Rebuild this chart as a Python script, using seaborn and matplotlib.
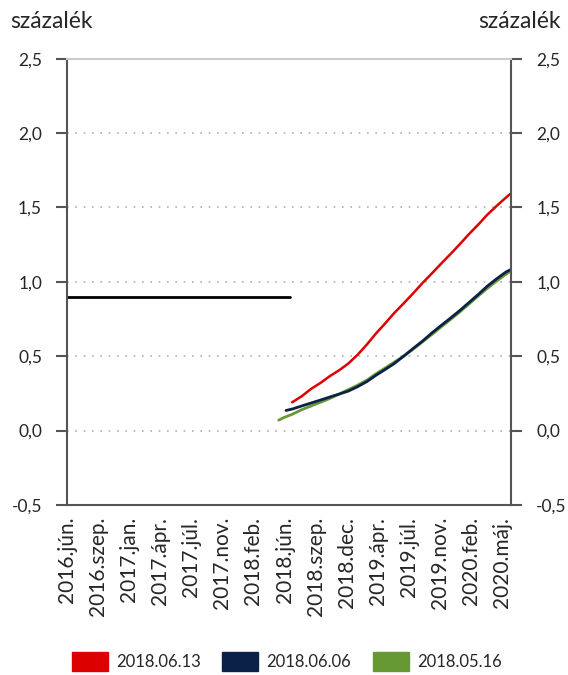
import pandas as pd
import seaborn as sns
import numpy as np
import matplotlib.pyplot as plt
import matplotlib.dates as mdates
from matplotlib.patches import Patch

# data
alapkamat_dates = ['2016-06-05', '2018-06-06']
alapkamat = [0.9, 0.9]

red_dates = ['2018-06-14', '2018-07-15', '2018-08-15', '2018-09-15', '2018-10-15', '2018-11-15',
             '2018-12-15', '2019-01-15', '2019-02-15', '2019-03-15', '2019-04-15', '2019-05-15',
             '2019-06-15', '2019-07-15', '2019-08-15', '2019-09-15', '2019-10-15', '2019-11-15',
             '2019-12-15', '2020-01-15', '2020-02-15', '2020-03-15', '2020-04-15', '2020-05-15',
             '2020-05-29']
red_vals = [0.19, 0.23, 0.28, 0.32, 0.365, 0.405, 0.45, 0.51, 0.58, 0.65, 0.72, 0.79,
            0.855, 0.92, 0.99, 1.055, 1.12, 1.185, 1.25, 1.32, 1.385, 1.45, 1.51, 1.565, 1.59]

navy_dates = ['2018-05-25', '2018-06-15', '2018-07-15', '2018-08-15', '2018-09-15', '2018-10-15',
              '2018-11-15', '2018-12-15', '2019-01-15', '2019-02-15', '2019-03-15', '2019-04-15',
              '2019-05-15', '2019-06-15', '2019-07-15', '2019-08-15', '2019-09-15', '2019-10-15',
              '2019-11-15', '2019-12-15', '2020-01-15', '2020-02-15', '2020-03-15', '2020-04-15',
              '2020-05-15', '2020-05-29']
navy_vals = [0.135, 0.145, 0.165, 0.185, 0.205, 0.225, 0.245, 0.265, 0.295, 0.33, 0.37, 0.41,
             0.45, 0.50, 0.55, 0.60, 0.655, 0.705, 0.755, 0.805, 0.86, 0.915, 0.97, 1.02,
             1.065, 1.08]

green_dates = ['2018-05-01', '2018-05-15', '2018-06-15', '2018-07-15', '2018-08-15', '2018-09-15',
               '2018-10-15', '2018-11-15', '2018-12-15', '2019-01-15', '2019-02-15', '2019-03-15',
               '2019-04-15', '2019-05-15', '2019-06-15', '2019-07-15', '2019-08-15', '2019-09-15',
               '2019-10-15', '2019-11-15', '2019-12-15', '2020-01-15', '2020-02-15', '2020-03-15',
               '2020-04-15', '2020-05-15', '2020-05-29']
green_vals = [0.07, 0.085, 0.11, 0.14, 0.165, 0.19, 0.215, 0.245, 0.275, 0.305, 0.34, 0.38,
              0.42, 0.46, 0.50, 0.545, 0.595, 0.645, 0.695, 0.745, 0.795, 0.85, 0.905, 0.955,
              1.005, 1.05, 1.07]

tick_labels = ['2016.jún.', '2016.szep.', '2017.jan.', '2017.ápr.', '2017.júl.', '2017.nov.',
               '2018.feb.', '2018.jún.', '2018.szep.', '2018.dec.', '2019.ápr.', '2019.júl.',
               '2019.nov.', '2020.feb.', '2020.máj.']
series_names = ['2018.06.13', '2018.06.06', '2018.05.16']
colors = ['#DD0000', '#0C2148', '#669933']

sns.set_style('white')
plt.rcParams['font.family'] = ['Lato', 'DejaVu Sans']

fig = plt.figure(figsize=(5.68, 6.75), dpi=100)
ax = fig.add_axes([0.118, 0.252, 0.782, 0.661])

sns.lineplot(x=pd.to_datetime(alapkamat_dates), y=alapkamat, color='black', lw=2, ax=ax)
sns.lineplot(x=pd.to_datetime(green_dates), y=green_vals, color=colors[2], lw=2, ax=ax)
sns.lineplot(x=pd.to_datetime(navy_dates), y=navy_vals, color=colors[1], lw=2, ax=ax)
sns.lineplot(x=pd.to_datetime(red_dates), y=red_vals, color=colors[0], lw=1.8, ax=ax)

# axes
ax.set_ylim(-0.5, 2.5)
yt = np.arange(-0.5, 2.51, 0.5)
ax.set_yticks(yt)
ax.set_yticklabels([f'{v:.1f}'.replace('.', ',') for v in yt])
ax.yaxis.grid(True, linestyle=(0, (1, 4)), color='#b0b0b0', lw=1.2)

ticks = pd.date_range('2016-06-05', periods=len(tick_labels), freq='102D')
ax.set_xticks(mdates.date2num(ticks))
ax.set_xticklabels(tick_labels, rotation=90)
ax.set_xlim(mdates.date2num(pd.Timestamp('2016-06-05')),
            mdates.date2num(pd.Timestamp('2016-06-05') + pd.Timedelta(days=1458)))

for s in ['left', 'right', 'bottom']:
    ax.spines[s].set_color('#555555')
    ax.spines[s].set_linewidth(1.5)
ax.spines['top'].set_color('#cccccc')
ax.spines['top'].set_linewidth(1.5)

ax.tick_params(axis='y', left=True, right=True, labelleft=True, labelright=True,
               length=8, width=1.5, color='#555555', labelsize=12.5, direction='out', pad=10)
ax.tick_params(axis='x', bottom=False, labelsize=15, pad=5)
ax.set_xlabel('')
ax.set_ylabel('')

fig.text(0.018, 0.968, 'százalék', fontsize=16.5, ha='left', va='center')
fig.text(0.988, 0.968, 'százalék', fontsize=16.5, ha='right', va='center')

handles = [Patch(color=c) for c in colors]
fig.legend(handles, series_names, loc='center', bbox_to_anchor=(0.505, 0.02), ncol=3,
           frameon=False, fontsize=12, handlelength=2.15, handleheight=1.3,
           columnspacing=1.3, handletextpad=0.5)

fig.savefig('out.png', dpi=100)
